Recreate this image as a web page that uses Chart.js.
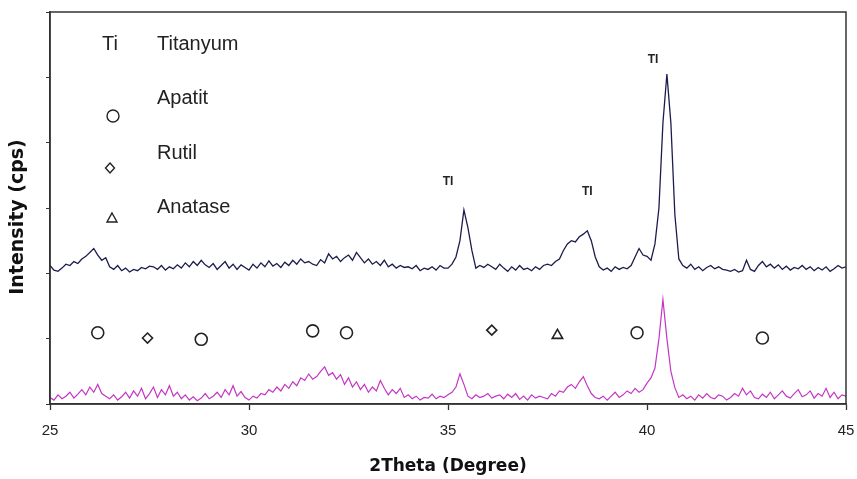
<!DOCTYPE html>
<html>
<head>
<meta charset="utf-8">
<script src="https://cdn.jsdelivr.net/npm/chart.js@4.4.1/dist/chart.umd.min.js"></script>
<style>
  html, body { margin: 0; padding: 0; background: #fff; }
  #wrap { width: 857px; height: 479px; }
</style>
</head>
<body>
<div id="wrap"><canvas id="xrd"></canvas></div>
<script>
// 2-theta sampling grid: 25.0 .. 45.0 in 0.1 degree steps
const thetaStart = 25;
const thetaStep = 0.1;

// upper pattern (navy), intensity
const titanIntensity = [
  212, 205, 203, 208, 214, 212, 218, 215, 222, 226,
  232, 238, 228, 220, 224, 210, 206, 212, 204, 208,
  202, 206, 204, 209, 207, 211, 210, 206, 212, 205,
  210, 207, 213, 208, 216, 210, 218, 212, 220, 213,
  209, 215, 206, 212, 218, 208, 214, 206, 213, 209,
  205, 214, 208, 216, 210, 219, 211, 215, 209, 217,
  212, 220, 214, 222, 216, 218, 214, 212, 221, 216,
  230, 222, 226, 218, 224, 228, 220, 232, 224, 216,
  222, 214, 218, 212, 220, 210, 214, 208, 212, 209,
  210, 207, 212, 204, 208, 206, 210, 205, 212, 208,
  208, 214, 225, 250, 297, 270, 235, 208, 212, 209,
  214, 210, 206, 214, 208, 203, 210, 205, 212, 206,
  208, 204, 210, 206, 212, 214, 212, 218, 222, 235,
  245, 250, 248, 256, 260, 265, 250, 225, 210, 205,
  208, 203, 210, 206, 209, 207, 212, 225, 238, 228,
  226, 220, 245, 300, 430, 505, 430, 290, 222, 212,
  208, 214, 206, 210, 204, 209, 212, 207, 210, 206,
  205, 203, 206, 202, 204, 220, 206, 203, 212, 218,
  210, 214, 208, 213, 206, 211, 205, 209, 207, 212,
  206, 210, 204, 209, 205, 210, 203, 207, 212, 208,
  210
];

// lower pattern (magenta)
const coatingIntensity = [
  10, 6, 14, 8, 12, 18, 9, 15, 22, 14,
  26, 18, 30, 16, 12, 8, 14, 6, 11, 18,
  9, 20, 12, 24, 8, 16, 26, 10, 22, 14,
  28, 12, 18, 8, 14, 6, 11, 5, 9, 16,
  8, 12, 18, 10, 22, 14, 28, 12, 19, 10,
  6, 12, 9, 16, 14, 22, 18, 26, 20, 30,
  24, 34, 28, 40, 36, 46, 38, 42, 50, 57,
  44, 48, 38, 45, 30, 40, 26, 34, 22, 30,
  18, 26, 20, 36, 24, 14, 22, 16, 24, 10,
  14, 8, 12, 6, 10, 9, 15, 8, 12, 10,
  14, 18, 26, 46, 30, 12, 8, 14, 10, 12,
  16, 9, 12, 14, 8, 15, 10, 16, 7, 12,
  6, 14, 9, 12, 10, 8, 16, 12, 20, 18,
  26, 30, 24, 34, 42, 28, 16, 10, 8, 12,
  6, 12, 18, 10, 14, 20, 16, 24, 18, 22,
  32, 40, 55, 100, 160, 100, 50, 25, 10, 14,
  8, 12, 6, 14, 9, 16, 10, 8, 14, 12,
  6, 10, 16, 12, 24, 14, 20, 10, 8, 15,
  10, 18, 8, 14, 20, 12, 9, 16, 22, 11,
  14, 20, 9, 16, 12, 24, 10, 18, 8, 14,
  12
];

// phase markers
const apatitX = [26.2, 28.8, 31.6, 32.45, 39.75, 42.9];
const apatitY = [109, 99, 112, 109, 109, 101];
const rutilX = [27.45, 36.1];
const rutilY = [101, 113];
const anataseX = [37.75];
const anataseY = [105];

// "TI" labels above titanium peaks
const peakLabelX = [35.0, 38.5, 40.15];
const peakLabelY = [341, 325, 527];
const peakLabelText = 'TI';

// x axis ticks
const xTicks = [25, 30, 35, 40, 45];

// legend entries drawn inside the plot
const legendNames = ['Titanyum', 'Apatit', 'Rutil', 'Anatase'];

const toPoints = (ys) => ys.map((y, i) => ({ x: +(thetaStart + i * thetaStep).toFixed(2), y }));
const pairs = (xs, ys) => xs.map((x, i) => ({ x, y: ys[i] }));

const ink = '#222';

const annotations = {
  id: 'annotations',
  afterDatasetsDraw(chart) {
    const { ctx, chartArea: a, scales: { x, y } } = chart;
    ctx.save();

    // frame around the plot
    ctx.strokeStyle = '#333';
    ctx.lineWidth = 1.5;
    ctx.strokeRect(a.left, a.top, a.right - a.left, a.bottom - a.top);

    // y axis title, sits a bit below the middle in the original
    ctx.save();
    ctx.translate(18, a.top + 205);
    ctx.rotate(-Math.PI / 2);
    ctx.fillStyle = '#111';
    ctx.font = 'bold 19px "DejaVu Sans"';
    ctx.textAlign = 'center';
    ctx.textBaseline = 'middle';
    ctx.fillText('Intensity (cps)', 0, 0);
    ctx.restore();

    // peak labels
    ctx.fillStyle = ink;
    ctx.font = 'bold 12px "Liberation Sans", Arial, sans-serif';
    ctx.textAlign = 'center';
    ctx.textBaseline = 'middle';
    peakLabelX.forEach((px, i) => {
      ctx.fillText(peakLabelText, x.getPixelForValue(px), y.getPixelForValue(peakLabelY[i]));
    });

    // legend block
    const lx = a.left + 63;   // symbol column
    const tx = a.left + 107;  // text column
    ctx.font = '20px "Liberation Sans", Arial, sans-serif';
    ctx.textAlign = 'left';
    ctx.textBaseline = 'alphabetic';
    ctx.fillText('Ti', a.left + 52, a.top + 38);
    ctx.fillText(legendNames[0], tx, a.top + 38);
    ctx.fillText(legendNames[1], tx, a.top + 92);
    ctx.fillText(legendNames[2], tx, a.top + 147);
    ctx.fillText(legendNames[3], tx, a.top + 201);

    ctx.strokeStyle = ink;
    ctx.lineWidth = 1.4;
    // circle
    ctx.beginPath();
    ctx.arc(lx, a.top + 104, 6, 0, Math.PI * 2);
    ctx.stroke();
    // diamond
    const dy = a.top + 156, dx = lx - 3;
    ctx.beginPath();
    ctx.moveTo(dx, dy - 5); ctx.lineTo(dx + 4.5, dy); ctx.lineTo(dx, dy + 5); ctx.lineTo(dx - 4.5, dy);
    ctx.closePath();
    ctx.stroke();
    // triangle
    const ty = a.top + 206;
    ctx.beginPath();
    ctx.moveTo(lx - 1, ty - 5); ctx.lineTo(lx + 4, ty + 4); ctx.lineTo(lx - 6, ty + 4);
    ctx.closePath();
    ctx.stroke();

    ctx.restore();
  }
};

const markerStyle = {
  type: 'scatter',
  showLine: false,
  backgroundColor: '#fff',
  borderColor: ink,
  borderWidth: 1.6
};

new Chart(document.getElementById('xrd'), {
  type: 'line',
  data: {
    datasets: [
      {
        label: 'Titanyum',
        data: toPoints(titanIntensity),
        borderColor: '#1c1c4c',
        borderWidth: 1.3,
        pointRadius: 0,
        tension: 0
      },
      {
        label: 'Kaplama',
        data: toPoints(coatingIntensity),
        borderColor: '#c436c4',
        borderWidth: 1.2,
        pointRadius: 0,
        tension: 0
      },
      { ...markerStyle, label: 'Apatit', data: pairs(apatitX, apatitY), pointStyle: 'circle', pointRadius: 6 },
      { ...markerStyle, label: 'Rutil', data: pairs(rutilX, rutilY), pointStyle: 'rectRot', pointRadius: 5 },
      { ...markerStyle, label: 'Anatase', data: pairs(anataseX, anataseY), pointStyle: 'triangle', pointRadius: 6 }
    ]
  },
  options: {
    responsive: true,
    maintainAspectRatio: false,
    animation: false,
    layout: { padding: { top: 12, right: 11, left: 0, bottom: 0 } },
    plugins: {
      legend: { display: false },
      tooltip: { enabled: false }
    },
    scales: {
      x: {
        type: 'linear',
        min: 25,
        max: 45,
        afterBuildTicks: (scale) => { scale.ticks = xTicks.map(v => ({ value: v })); },
        afterFit: (scale) => {
          scale.height = 75;
          scale.paddingLeft = 0;
          scale.paddingRight = 0;
        },
        ticks: {
          color: ink,
          padding: 12,
          font: { family: '"Liberation Sans Narrow", "Liberation Sans", Arial', size: 15 }
        },
        grid: { drawOnChartArea: false, color: '#333', tickLength: 6, tickWidth: 1.3 },
        border: { color: '#333', width: 1.5 },
        title: {
          display: true,
          text: '2Theta (Degree)',
          color: '#111',
          padding: { top: 4, bottom: 2 },
          font: { family: '"DejaVu Sans"', size: 17, weight: 'bold' }
        }
      },
      y: {
        min: 0,
        max: 600,
        ticks: { display: false, stepSize: 100 },
        afterFit: (scale) => { scale.width = 50; },
        grid: { drawOnChartArea: false, color: '#333', tickLength: 4 },
        border: { color: '#333', width: 1.5 }
      }
    }
  },
  plugins: [annotations]
});
</script>
</body>
</html>
